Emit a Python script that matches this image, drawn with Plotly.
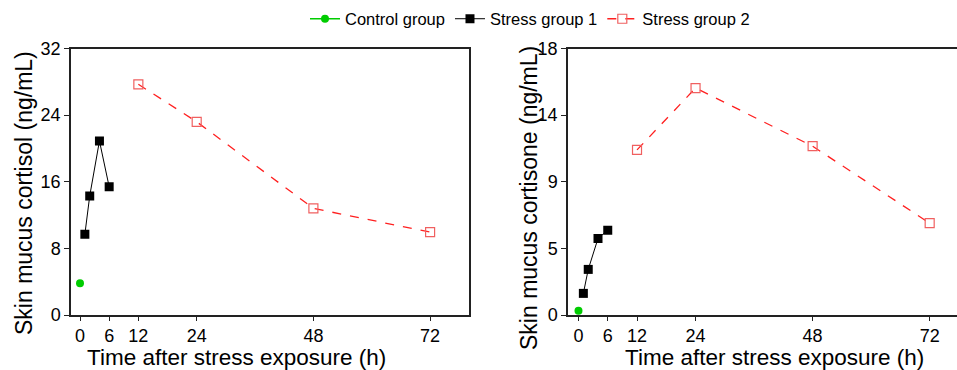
import plotly.graph_objects as go

# ---- data ----
ctrl_t = [0]
ctrl_cortisol = [3.8]
ctrl_cortisone = [0.29]

sg1_t = [1, 2, 4, 6]
sg1_cortisol = [9.7, 14.3, 20.9, 15.4]
sg1_cortisone = [1.46, 3.08, 5.17, 5.73]

sg2_t = [12, 24, 48, 72]
sg2_cortisol = [27.7, 23.2, 12.8, 9.95]
sg2_cortisone = [11.15, 15.33, 11.4, 6.2]

x_ticks = [0, 6, 12, 24, 48, 72]
y1_ticks = [0, 8, 16, 24, 32]
y2_ticks = [0, 4.5, 9, 13.5, 18]
y2_ticktext = ["0", "5", "9", "14", "18"]

W, H = 957, 370
FONT = "Liberation Sans, Arial, sans-serif"

fig = go.Figure()

styles = {
    "Control group": dict(mode="lines+markers", line=dict(color="#00CC00", width=1.5),
                          marker=dict(symbol="circle", size=8, color="#00CC00")),
    "Stress group 1": dict(mode="lines+markers", line=dict(color="black", width=1),
                           marker=dict(symbol="square", size=9, color="black")),
    "Stress group 2": dict(mode="lines+markers", line=dict(color="#FF2020", width=1.3, dash="dash"),
                           marker=dict(symbol="square-open", size=9, color="#F06060",
                                       line=dict(width=1.2))),
}


def add(xs, ys, name, axis, show):
    fig.add_trace(go.Scatter(x=xs, y=ys, name=name, showlegend=show,
                             xaxis="x" if axis == 1 else "x2",
                             yaxis="y" if axis == 1 else "y2",
                             **styles[name]))


add(ctrl_t, ctrl_cortisol, "Control group", 1, True)
add(sg1_t, sg1_cortisol, "Stress group 1", 1, True)
add(sg2_t, sg2_cortisol, "Stress group 2", 1, True)
add(ctrl_t, ctrl_cortisone, "Control group", 2, False)
add(sg1_t, sg1_cortisone, "Stress group 1", 2, False)
add(sg2_t, sg2_cortisone, "Stress group 2", 2, False)

ydom = [1 - 315 / H, 1 - 48.5 / H]
axcommon = dict(showline=True, linecolor="#222", linewidth=1.5, showgrid=False, zeroline=False,
                ticks="outside", tickcolor="#222", automargin=False,
                tickfont=dict(size=18, color="#000", family=FONT))

def title_ann(text, x, y, angle=0, size=23):
    return dict(text=text, xref="paper", yref="paper", x=x / W, y=1 - y / H,
                xanchor="center", yanchor="middle", textangle=angle, showarrow=False,
                font=dict(size=size, family=FONT, color="#000"))

fig.update_layout(
    width=W, height=H, margin=dict(l=0, r=0, t=0, b=0, autoexpand=False),
    paper_bgcolor="white", plot_bgcolor="white",
    font=dict(family=FONT, color="#000"),
    xaxis=dict(domain=[71 / W, 469 / W], range=[-1.85, 80], tickvals=x_ticks, ticklen=4,
               mirror=True, anchor="y", **axcommon),
    yaxis=dict(domain=ydom, range=[0, 32], tickvals=y1_ticks, ticklen=5, mirror=True,
               anchor="x", **axcommon),
    xaxis2=dict(domain=[568 / W, 1], range=[-2.15, 77.6], tickvals=x_ticks, ticklen=4,
                mirror=True, anchor="y2", **axcommon),
    yaxis2=dict(domain=ydom, range=[0, 18], tickvals=y2_ticks, ticktext=y2_ticktext, ticklen=5,
                mirror=False, anchor="x2", **axcommon),
    legend=dict(orientation="h", x=530 / W, xanchor="center", y=1 - 19 / H, yanchor="middle",
                font=dict(size=16.5, family=FONT, color="#000"), itemwidth=30,
                bgcolor="rgba(0,0,0,0)"),
    annotations=[
        title_ann("Time after stress exposure (h)", 236.5, 357.5, size=22.5),
        title_ann("Time after stress exposure (h)", 774.5, 357.5, size=22.5),
        title_ann("Skin mucus cortisol (ng/mL)", 24, 193, -90),
        title_ann("Skin mucus cortisone (ng/mL)", 529, 198, -90),
    ],
)

fig.write_html("out.html")
